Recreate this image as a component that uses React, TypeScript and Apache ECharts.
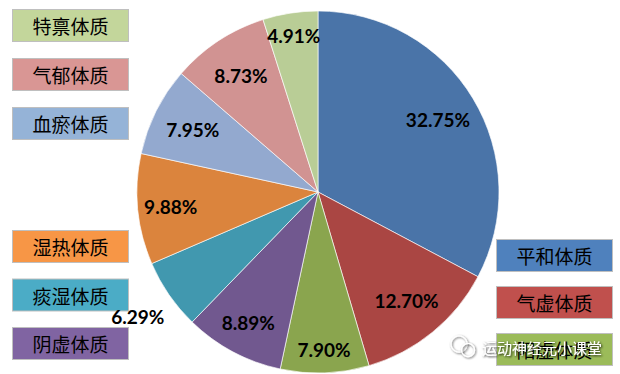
import React, { useEffect, useRef } from "react";
import * as echarts from "echarts";

// ---- data ----
const NAMES = ["平和体质", "气虚体质", "阳虚体质", "阴虚体质", "痰湿体质", "湿热体质", "血瘀体质", "气郁体质", "特禀体质"];
const PERCENTS = [32.75, 12.7, 7.9, 8.89, 6.29, 9.88, 7.95, 8.73, 4.91];
const LEGEND_LEFT_TOP = ["特禀体质", "气郁体质", "血瘀体质"];
const LEGEND_LEFT_BOTTOM = ["湿热体质", "痰湿体质", "阴虚体质"];
const LEGEND_RIGHT = ["平和体质", "气虚体质", "阳虚体质"];
const WATERMARK = "运动神经元小课堂";

// ---- styles ----
const SLICE_COLORS = ["#4A74A8", "#AA4643", "#8AA54E", "#71588F", "#4198AF", "#DB843D", "#93A9CF", "#D19392", "#B9CD96"];
const LEGEND_COLORS = ["#4F81BD", "#C0504D", "#9BBB59", "#8064A2", "#4BACC6", "#F79646", "#95B3D7", "#D99694", "#C3D69B"];
// which label ring each slice's label sits on
const LABEL_RING = [0, 0, 2, 1, 3, 1, 0, 0, 2];
const RINGS: [number, number][] = [
  [94, 180],
  [110, 180],
  [130, 180],
  [181, 251],
];
const CENTER = [318, 192];
const R = 181;

export default function App() {
  const ref = useRef<HTMLDivElement>(null);
  useEffect(() => {
    document.body.style.margin = "0";
    const chart = echarts.init(ref.current!, undefined, { renderer: "svg" });

    const labelFont = {
      fontFamily: "Lato, 'Liberation Sans', sans-serif",
      fontWeight: "bold" as const,
      fontSize: 19,
      color: "#000",
    };

    const overlays = RINGS.map((ring, ri) => ({
      type: "pie",
      silent: true,
      center: CENTER,
      radius: ring,
      startAngle: 90,
      clockwise: true,
      avoidLabelOverlap: false,
      emphasis: { disabled: true },
      itemStyle: { color: "rgba(0,0,0,0)", borderWidth: 0 },
      labelLine: { show: false },
      z: 5,
      data: NAMES.map((n, i) => ({
        name: n,
        value: PERCENTS[i],
        label: {
          show: LABEL_RING[i] === ri,
          position: "inside",
          formatter: (p: any) => `${Number(p.value).toFixed(2)}%`,
          ...labelFont,
        },
      })),
    }));

    const rich: Record<string, any> = {};
    NAMES.forEach((n, i) => {
      rich["b" + i] = {
        fontFamily: "'Noto Sans CJK SC', sans-serif",
        fontSize: 19,
        color: "#000",
        width: 115,
        height: 31,
        lineHeight: 31,
        align: "center",
        verticalAlign: "middle",
        backgroundColor: LEGEND_COLORS[i],
        borderColor: "#BFBFBF",
        borderWidth: 1,
        padding: 0,
      };
    });

    const mkLegend = (names: string[], left: number, top: number, gap: number) => ({
      orient: "vertical",
      left,
      top,
      padding: 0,
      itemGap: gap,
      itemWidth: 0,
      itemHeight: 0,
      icon: "rect",
      selectedMode: false,
      formatter: (name: string) => `{b${NAMES.indexOf(name)}|${name}}`,
      textStyle: { rich, padding: 0 },
      data: names,
    });

    const shadow = { shadowColor: "rgba(0,0,0,0.7)", shadowBlur: 2, shadowOffsetX: 1, shadowOffsetY: 1 };

    chart.setOption({
      animation: false,
      backgroundColor: "#fff",
      legend: [
        mkLegend(LEGEND_LEFT_TOP, 7, 9, 16),
        mkLegend(LEGEND_LEFT_BOTTOM, 7, 230, 15.5),
        mkLegend(LEGEND_RIGHT, 491, 239, 14),
      ],
      series: [
        {
          type: "pie",
          center: CENTER,
          radius: R,
          startAngle: 90,
          clockwise: true,
          avoidLabelOverlap: false,
          label: { show: false },
          labelLine: { show: false },
          itemStyle: { borderColor: "rgba(255,255,255,0.8)", borderWidth: 0.8 },
          emphasis: { disabled: true },
          data: NAMES.map((n, i) => ({ name: n, value: PERCENTS[i], itemStyle: { color: SLICE_COLORS[i] } })),
        },
        ...overlays,
      ],
      graphic: [
        {
          type: "circle",
          z: 100,
          zlevel: 1,
          shape: { cx: 459, cy: 344, r: 8 },
          style: { fill: "none", stroke: "#fff", lineWidth: 1.2, ...shadow },
        },
        {
          type: "circle",
          z: 100,
          zlevel: 1,
          shape: { cx: 468, cy: 350, r: 6.5 },
          style: { fill: "none", stroke: "#fff", lineWidth: 1.2, ...shadow },
        },
        {
          type: "text",
          z: 100,
          zlevel: 1,
          x: 482,
          y: 347,
          style: {
            text: WATERMARK,
            fill: "#fff",
            font: "15px 'Noto Sans CJK SC', sans-serif",
            verticalAlign: "middle",
            textShadowColor: "rgba(0,0,0,0.85)",
            textShadowBlur: 2,
            textShadowOffsetX: 1,
            textShadowOffsetY: 1,
          },
        },
      ],
    });
    return () => chart.dispose();
  }, []);
  return <div ref={ref} style={{ width: 620, height: 374 }} />;
}
